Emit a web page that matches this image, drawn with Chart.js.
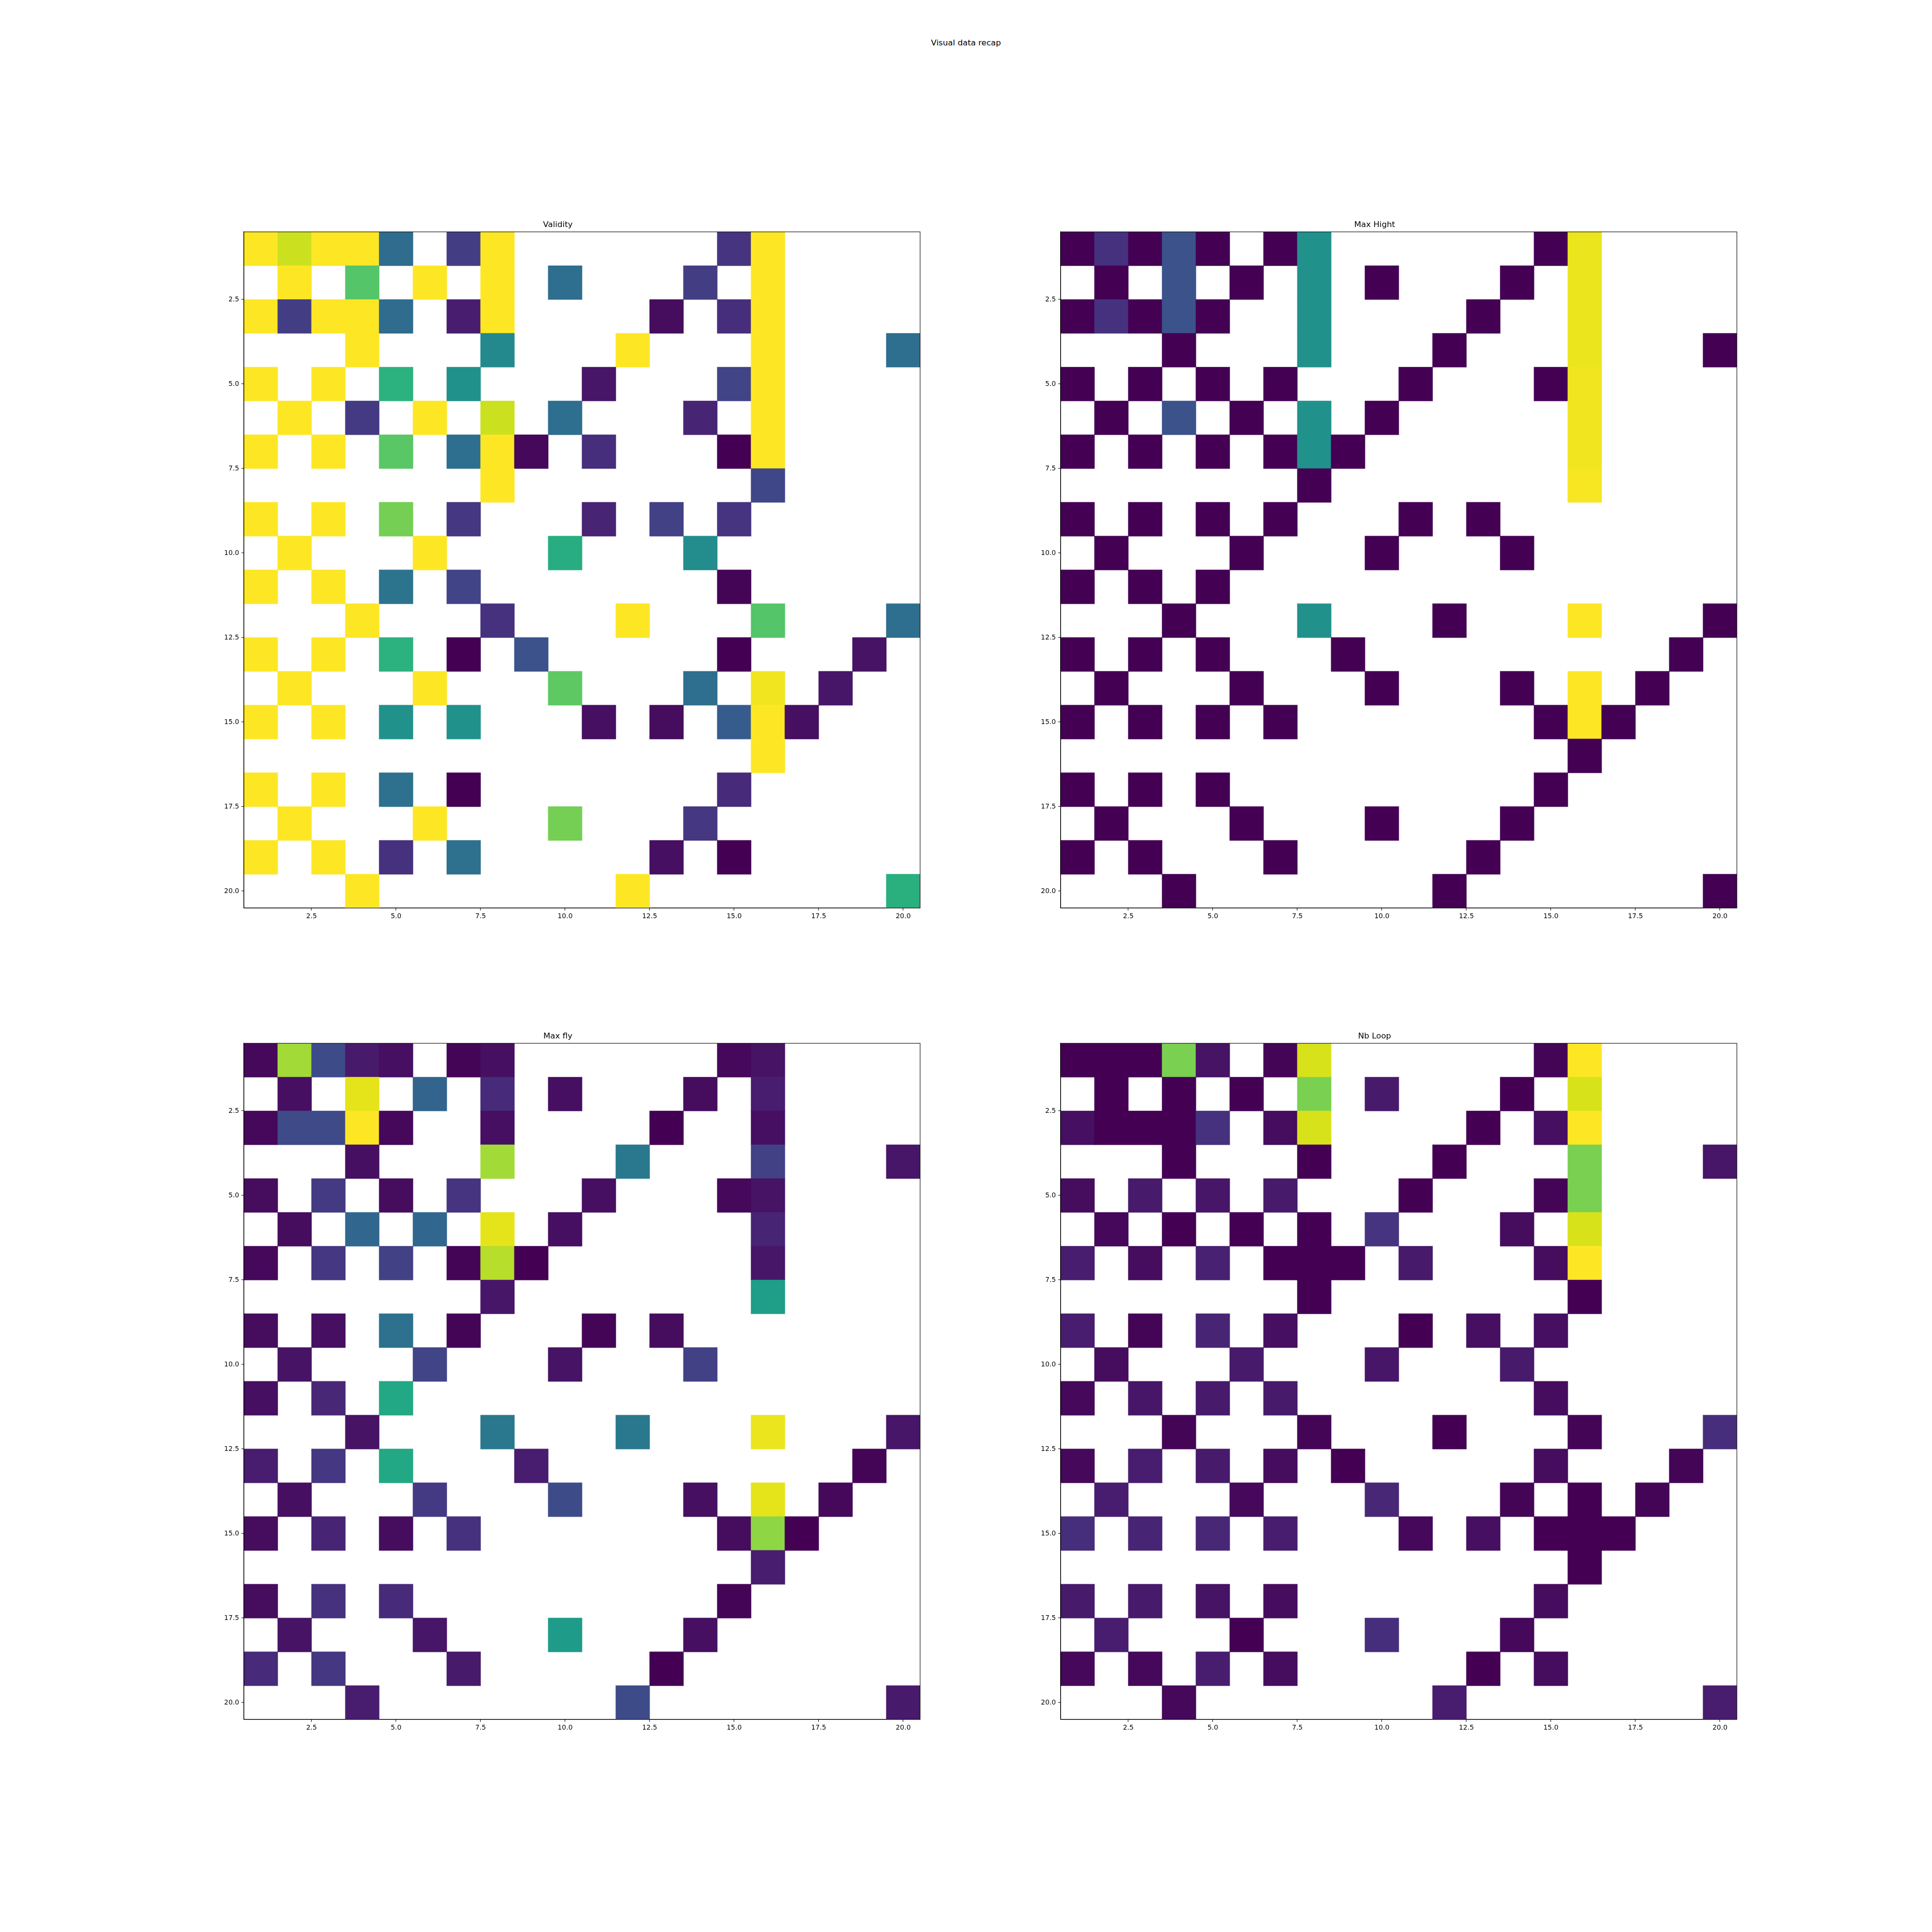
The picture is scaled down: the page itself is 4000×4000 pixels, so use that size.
<!DOCTYPE html>
<html><head><meta charset="utf-8">
<script src="https://cdn.jsdelivr.net/npm/chart.js@4.4.0/dist/chart.umd.min.js"></script>
<style>
html,body{margin:0;padding:0;background:#fff;}
#page{position:relative;width:4000px;height:4000px;background:#fff;overflow:hidden;}
#sup{position:absolute;left:0;width:4000px;top:78px;text-align:center;font-family:"DejaVu Sans";font-size:16.7px;color:#000;line-height:20px;}
.panel{position:absolute;}
</style></head>
<body><div id="page"><div id="sup">Visual data recap</div></div>
<script>
const _ = null;
const columns = [1,2,3,4,5,6,7,8,9,10,11,12,13,14,15,16,17,18,19,20];
const rows = [1,2,3,4,5,6,7,8,9,10,11,12,13,14,15,16,17,18,19,20];
const tickValues = [2.5,5,7.5,10,12.5,15,17.5,20];
const panelTitles = ['Validity','Max Hight','Max fly','Nb Loop'];

const validity = [
[1,.92,1,1,.35,_,.18,1,_,_,_,_,_,_,.15,1,_,_,_,_],
[_,1,_,.73,_,1,_,1,_,.36,_,_,_,.18,_,1,_,_,_,_],
[1,.18,1,1,.35,_,.08,1,_,_,_,_,.03,_,.13,1,_,_,_,_],
[_,_,_,1,_,_,_,.47,_,_,_,1,_,_,_,1,_,_,_,.36],
[1,_,1,_,.64,_,.5,_,_,_,.06,_,_,_,.2,1,_,_,_,_],
[_,1,_,.17,_,1,_,.92,_,.36,_,_,_,.1,_,1,_,_,_,_],
[1,_,1,_,.74,_,.36,1,.02,_,.13,_,_,_,0,1,_,_,_,_],
[_,_,_,_,_,_,_,1,_,_,_,_,_,_,_,.21,_,_,_,_],
[1,_,1,_,.79,_,.16,_,_,_,.1,_,.19,_,.15,_,_,_,_,_],
[_,1,_,_,_,1,_,_,_,.62,_,_,_,.48,_,_,_,_,_,_],
[1,_,1,_,.38,_,.2,_,_,_,_,_,_,_,.01,_,_,_,_,_],
[_,_,_,1,_,_,_,.14,_,_,_,1,_,_,_,.73,_,_,_,.36],
[1,_,1,_,.64,_,0,_,.25,_,_,_,_,_,0,_,_,_,.05,_],
[_,1,_,_,_,1,_,_,_,.75,_,_,_,.36,_,.98,_,.06,_,_],
[1,_,1,_,.5,_,.5,_,_,_,.04,_,.03,_,.29,1,.04,_,_,_],
[_,_,_,_,_,_,_,_,_,_,_,_,_,_,_,1,_,_,_,_],
[1,_,1,_,.37,_,0,_,_,_,_,_,_,_,.12,_,_,_,_,_],
[_,1,_,_,_,1,_,_,_,.79,_,_,_,.16,_,_,_,_,_,_],
[1,_,1,_,.14,_,.37,_,_,_,_,_,.04,_,0,_,_,_,_,_],
[_,_,_,1,_,_,_,_,_,_,_,1,_,_,_,_,_,_,_,.63]
];

const maxHight = [
[0,.14,0,.25,0,_,0,.5,_,_,_,_,_,_,0,.97,_,_,_,_],
[_,0,_,.25,_,0,_,.5,_,0,_,_,_,0,_,.97,_,_,_,_],
[0,.14,0,.25,0,_,_,.5,_,_,_,_,0,_,_,.97,_,_,_,_],
[_,_,_,0,_,_,_,.5,_,_,_,0,_,_,_,.97,_,_,_,0],
[0,_,0,_,0,_,0,_,_,_,0,_,_,_,0,.98,_,_,_,_],
[_,0,_,.25,_,0,_,.5,_,0,_,_,_,_,_,.98,_,_,_,_],
[0,_,0,_,0,_,0,.5,0,_,_,_,_,_,_,.98,_,_,_,_],
[_,_,_,_,_,_,_,0,_,_,_,_,_,_,_,.99,_,_,_,_],
[0,_,0,_,0,_,0,_,_,_,0,_,0,_,_,_,_,_,_,_],
[_,0,_,_,_,0,_,_,_,0,_,_,_,0,_,_,_,_,_,_],
[0,_,0,_,0,_,_,_,_,_,_,_,_,_,_,_,_,_,_,_],
[_,_,_,0,_,_,_,.5,_,_,_,0,_,_,_,1,_,_,_,0],
[0,_,0,_,0,_,_,_,0,_,_,_,_,_,_,_,_,_,0,_],
[_,0,_,_,_,0,_,_,_,0,_,_,_,0,_,1,_,0,_,_],
[0,_,0,_,0,_,0,_,_,_,_,_,_,_,0,1,0,_,_,_],
[_,_,_,_,_,_,_,_,_,_,_,_,_,_,_,0,_,_,_,_],
[0,_,0,_,0,_,_,_,_,_,_,_,_,_,0,_,_,_,_,_],
[_,0,_,_,_,0,_,_,_,0,_,_,_,0,_,_,_,_,_,_],
[0,_,0,_,_,_,0,_,_,_,_,_,0,_,_,_,_,_,_,_],
[_,_,_,0,_,_,_,_,_,_,_,0,_,_,_,_,_,_,_,0]
];

const maxFly = [
[.02,.86,.23,.07,.04,_,.01,.04,_,_,_,_,_,_,.02,.05,_,_,_,_],
[_,.04,_,.96,_,.32,_,.12,_,.04,_,_,_,.03,_,.08,_,_,_,_],
[.02,.22,.22,1,.02,_,_,.04,_,_,_,_,0,_,_,.04,_,_,_,_],
[_,_,_,.04,_,_,_,.86,_,_,_,.4,_,_,_,.19,_,_,_,.06],
[.03,_,.17,_,.03,_,.15,_,_,_,.04,_,_,_,.02,.05,_,_,_,_],
[_,.03,_,.33,_,.33,_,.96,_,.04,_,_,_,_,_,.1,_,_,_,_],
[.02,_,.16,_,.19,_,.01,.89,0,_,_,_,_,_,_,.06,_,_,_,_],
[_,_,_,_,_,_,_,.06,_,_,_,_,_,_,_,.56,_,_,_,_],
[.03,_,.04,_,.37,_,.01,_,_,_,.01,_,.03,_,_,_,_,_,_,_],
[_,.05,_,_,_,.2,_,_,_,.05,_,_,_,.19,_,_,_,_,_,_],
[.04,_,.11,_,.6,_,_,_,_,_,_,_,_,_,_,_,_,_,_,_],
[_,_,_,.05,_,_,_,.4,_,_,_,.4,_,_,_,.97,_,_,_,.06],
[.08,_,.16,_,.6,_,_,_,.08,_,_,_,_,_,_,_,_,_,.01,_],
[_,.04,_,_,_,.17,_,_,_,.23,_,_,_,.04,_,.96,_,.02,_,_],
[.03,_,.1,_,.03,_,.14,_,_,_,_,_,_,_,.03,.83,0,_,_,_],
[_,_,_,_,_,_,_,_,_,_,_,_,_,_,_,.08,_,_,_,_],
[.03,_,.14,_,.12,_,_,_,_,_,_,_,_,_,.01,_,_,_,_,_],
[_,.05,_,_,_,.06,_,_,_,.55,_,_,_,.04,_,_,_,_,_,_],
[.12,_,.16,_,_,_,.07,_,_,_,_,_,0,_,_,_,_,_,_,_],
[_,_,_,.08,_,_,_,_,_,_,_,.23,_,_,_,_,_,_,_,.07]
];

const nbLoop = [
[0,0,0,.8,.05,_,.01,.94,_,_,_,_,_,_,.01,1,_,_,_,_],
[_,0,_,0,_,0,_,.8,_,.07,_,_,_,0,_,.94,_,_,_,_],
[.04,0,0,0,.14,_,.03,.94,_,_,_,_,0,_,.04,1,_,_,_,_],
[_,_,_,0,_,_,_,0,_,_,_,0,_,_,_,.8,_,_,_,.06],
[.03,_,.07,_,.06,_,.07,_,_,_,0,_,_,_,.01,.8,_,_,_,_],
[_,.02,_,0,_,0,_,0,_,.15,_,_,_,.03,_,.94,_,_,_,_],
[.08,_,.03,_,.09,_,0,0,0,_,.07,_,_,_,.03,1,_,_,_,_],
[_,_,_,_,_,_,_,0,_,_,_,_,_,_,_,0,_,_,_,_],
[.08,_,.01,_,.1,_,.04,_,_,_,0,_,.04,_,.04,_,_,_,_,_],
[_,.03,_,_,_,.07,_,_,_,.06,_,_,_,.07,_,_,_,_,_,_],
[.02,_,.06,_,.07,_,.07,_,_,_,_,_,_,_,.03,_,_,_,_,_],
[_,_,_,.01,_,_,_,.01,_,_,_,0,_,_,_,.01,_,_,_,.13],
[.02,_,.08,_,.07,_,.03,_,0,_,_,_,_,_,.03,_,_,_,.01,_],
[_,.08,_,_,_,.02,_,_,_,.11,_,_,_,.01,_,0,_,.01,_,_],
[.13,_,.1,_,.11,_,.08,_,_,_,.02,_,.04,_,0,0,0,_,_,_],
[_,_,_,_,_,_,_,_,_,_,_,_,_,_,_,0,_,_,_,_],
[.07,_,.07,_,.05,_,.03,_,_,_,_,_,_,_,.03,_,_,_,_,_],
[_,.08,_,_,_,0,_,_,_,.13,_,_,_,.02,_,_,_,_,_,_],
[.02,_,.02,_,.08,_,.03,_,_,_,_,_,0,_,.03,_,_,_,_,_],
[_,_,_,.02,_,_,_,_,_,_,_,.08,_,_,_,_,_,_,_,.08]
];

const panelData = [validity, maxHight, maxFly, nbLoop];

// viridis colormap
const VIR = ['#440154','#471365','#482475','#463480','#414487','#3b528b','#355f8d','#2f6c8e','#2a788e','#25848e','#21918c','#1e9c89','#22a884','#2fb47c','#44bf70','#5ec962','#7ad151','#9bd93c','#bddf26','#dfe318','#fde725'];
function hexRgb(h){return [parseInt(h.slice(1,3),16),parseInt(h.slice(3,5),16),parseInt(h.slice(5,7),16)];}
const VIRRGB = VIR.map(hexRgb);
function viridis(t){
  t = Math.max(0, Math.min(1, t));
  const f = t * (VIRRGB.length - 1);
  const i = Math.min(VIRRGB.length - 2, Math.floor(f));
  const u = f - i;
  const a = VIRRGB[i], b = VIRRGB[i+1];
  return 'rgb(' + [0,1,2].map(k => Math.round(a[k] + (b[k]-a[k])*u)).join(',') + ')';
}

const FONT = '"DejaVu Sans", sans-serif';
const layoutPos = [
  {L:505, T:480}, {L:2196, T:480},
  {L:505, T:2160}, {L:2196, T:2160}
];
const SIDE = 100, TOP = 50, BOTTOM = 50, AREA = 1400;

const framePlugin = {
  id: 'frame',
  afterDatasetsDraw(chart) {
    const a = chart.chartArea, ctx = chart.ctx;
    ctx.save();
    ctx.strokeStyle = '#000';
    ctx.lineWidth = 1.1;
    ctx.strokeRect(a.left, a.top, a.right - a.left, a.bottom - a.top);
    ctx.restore();
  }
};

function setTicks(scale) {
  scale.ticks = tickValues.map(v => ({value: v}));
}

panelData.forEach((grid, p) => {
  const pos = layoutPos[p];
  const div = document.createElement('div');
  div.className = 'panel';
  div.style.left = (pos.L - SIDE) + 'px';
  div.style.top = (pos.T - TOP) + 'px';
  const canvas = document.createElement('canvas');
  const W = AREA + 2 * SIDE, H = AREA + TOP + BOTTOM;
  canvas.width = W; canvas.height = H;
  canvas.style.width = W + 'px'; canvas.style.height = H + 'px';
  div.appendChild(canvas);
  document.getElementById('page').appendChild(div);

  const vals = grid.flat().filter(v => v !== null);
  const vmin = Math.min(...vals), vmax = Math.max(...vals);
  const points = [];
  rows.forEach((r, ri) => {
    columns.forEach((c, ci) => {
      const v = grid[ri][ci];
      if (v !== null) points.push({x: c, y: [r - 0.5, r + 0.5], v: v});
    });
  });

  new Chart(canvas, {
    type: 'bar',
    data: {
      datasets: [{
        data: points,
        backgroundColor: ctx => {
          const raw = ctx.raw;
          if (!raw) return 'rgba(0,0,0,0)';
          return viridis((raw.v - vmin) / ((vmax - vmin) || 1));
        },
        borderWidth: 0,
        barPercentage: 1,
        categoryPercentage: 1,
        inflateAmount: 0.4
      }]
    },
    options: {
      responsive: false,
      animation: false,
      events: [],
      devicePixelRatio: 1,
      layout: {padding: {top: 25.5, right: SIDE, bottom: 0, left: 0}},
      plugins: {
        legend: {display: false},
        tooltip: {enabled: false},
        title: {
          display: true,
          text: panelTitles[p],
          color: '#000',
          font: {family: FONT, size: 16.7, weight: 'normal', lineHeight: 1.2},
          padding: {top: 0, bottom: 4.5}
        }
      },
      scales: {
        x: {
          type: 'linear',
          position: 'bottom',
          min: 0.5, max: 20.5,
          offset: false,
          afterBuildTicks: setTicks,
          afterFit: s => { s.height = BOTTOM; },
          grid: {display: true, offset: false, drawOnChartArea: false, drawTicks: true, tickLength: 5, color: '#000', lineWidth: 1.1},
          border: {display: true, color: '#000', width: 1.1},
          ticks: {
            color: '#000', font: {family: FONT, size: 13.9}, padding: 4,
            maxRotation: 0, autoSkip: false,
            callback: v => Number(v).toFixed(1)
          }
        },
        y: {
          type: 'linear',
          position: 'left',
          reverse: true,
          min: 0.5, max: 20.5,
          afterBuildTicks: setTicks,
          afterFit: s => { s.width = SIDE; },
          grid: {display: true, drawOnChartArea: false, drawTicks: true, tickLength: 5, color: '#000', lineWidth: 1.1},
          border: {display: true, color: '#000', width: 1.1},
          ticks: {
            color: '#000', font: {family: FONT, size: 13.9}, padding: 5,
            autoSkip: false,
            callback: v => Number(v).toFixed(1)
          }
        }
      }
    },
    plugins: [framePlugin]
  });
});
</script>
</body></html>
